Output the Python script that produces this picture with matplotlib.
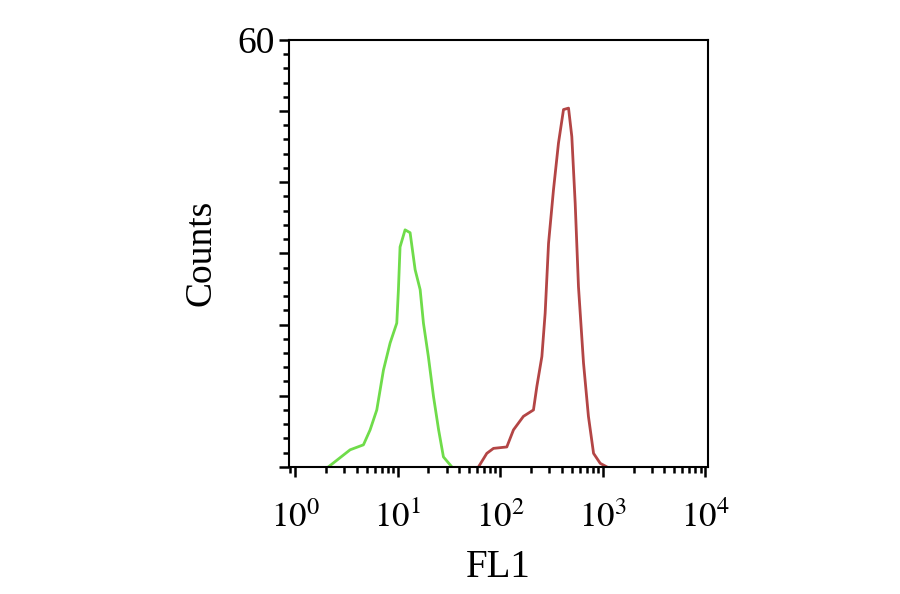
import numpy as np
import matplotlib
matplotlib.use("Agg")
import matplotlib.pyplot as plt
from matplotlib.ticker import LogLocator, MultipleLocator, NullFormatter

# FL1 positions stored as log10 values, counts
green_log = [0.325, 0.537, 0.667, 0.732, 0.797, 0.862, 0.927, 0.992, 1.008, 1.024,
             1.073, 1.122, 1.171, 1.220, 1.252, 1.30, 1.35, 1.40, 1.447, 1.529]
green_cnt = [0, 2.4, 3.1, 5.2, 8.0, 13.6, 17.4, 20.2, 24.9, 30.9,
             33.3, 32.9, 27.7, 24.9, 20.2, 15.5, 9.9, 5.2, 1.4, 0]

red_log = [1.789, 1.870, 1.935, 2.065, 2.13, 2.227, 2.325, 2.358, 2.407, 2.439,
           2.472, 2.52, 2.569, 2.618, 2.667, 2.699, 2.732, 2.764, 2.813, 2.861,
           2.911, 2.976, 3.04]
red_cnt = [0, 1.9, 2.6, 2.8, 5.2, 7.1, 8.0, 11.3, 15.5, 21.6,
           31.4, 38.9, 45.5, 50.2, 50.4, 46.4, 37.0, 25.3, 14.6, 7.1,
           1.9, 0.5, 0]

xtick_vals = [1, 10, 100, 1000, 10000]
xtick_labels = ["$10^0$", "$10^1$", "$10^2$", "$10^3$", "$10^4$"]

plt.rcParams['font.family'] = ['Liberation Serif', 'DejaVu Serif']
plt.rcParams['mathtext.fontset'] = 'stix'

fig = plt.figure(figsize=(9, 5.94), dpi=100)
ax = fig.add_axes([0.321, 0.214, 0.466, 0.719])

ax.plot(np.power(10.0, green_log), green_cnt, color='#6fdc4a', lw=2)
ax.plot(np.power(10.0, red_log), red_cnt, color='#b34545', lw=2)

ax.set_xscale('log')
ax.set_xlim(10 ** -0.06, 10 ** 4.03)
ax.set_ylim(0, 60)

ax.set_xticks(xtick_vals)
ax.set_xticklabels(xtick_labels, fontsize=25)
ax.xaxis.set_minor_locator(LogLocator(base=10, subs=np.arange(2, 10)))
ax.xaxis.set_minor_formatter(NullFormatter())

ax.yaxis.set_minor_locator(MultipleLocator(2))
ax.set_yticks([0, 10, 20, 30, 40, 50, 60])
ax.set_yticklabels(['', '', '', '', '', '', '60'], fontsize=27)

ax.tick_params(which='major', direction='out', length=7, width=1.8)
ax.tick_params(which='minor', direction='out', length=4, width=1.8)
ax.tick_params(axis='x', pad=18)
ax.tick_params(axis='y', pad=3)
for s in ax.spines.values():
    s.set_linewidth(1.5)

ax.set_ylabel('Counts', fontsize=27, labelpad=14)
ax.set_xlabel('FL1', fontsize=28, labelpad=10)

fig.savefig('out.png', dpi=100)
